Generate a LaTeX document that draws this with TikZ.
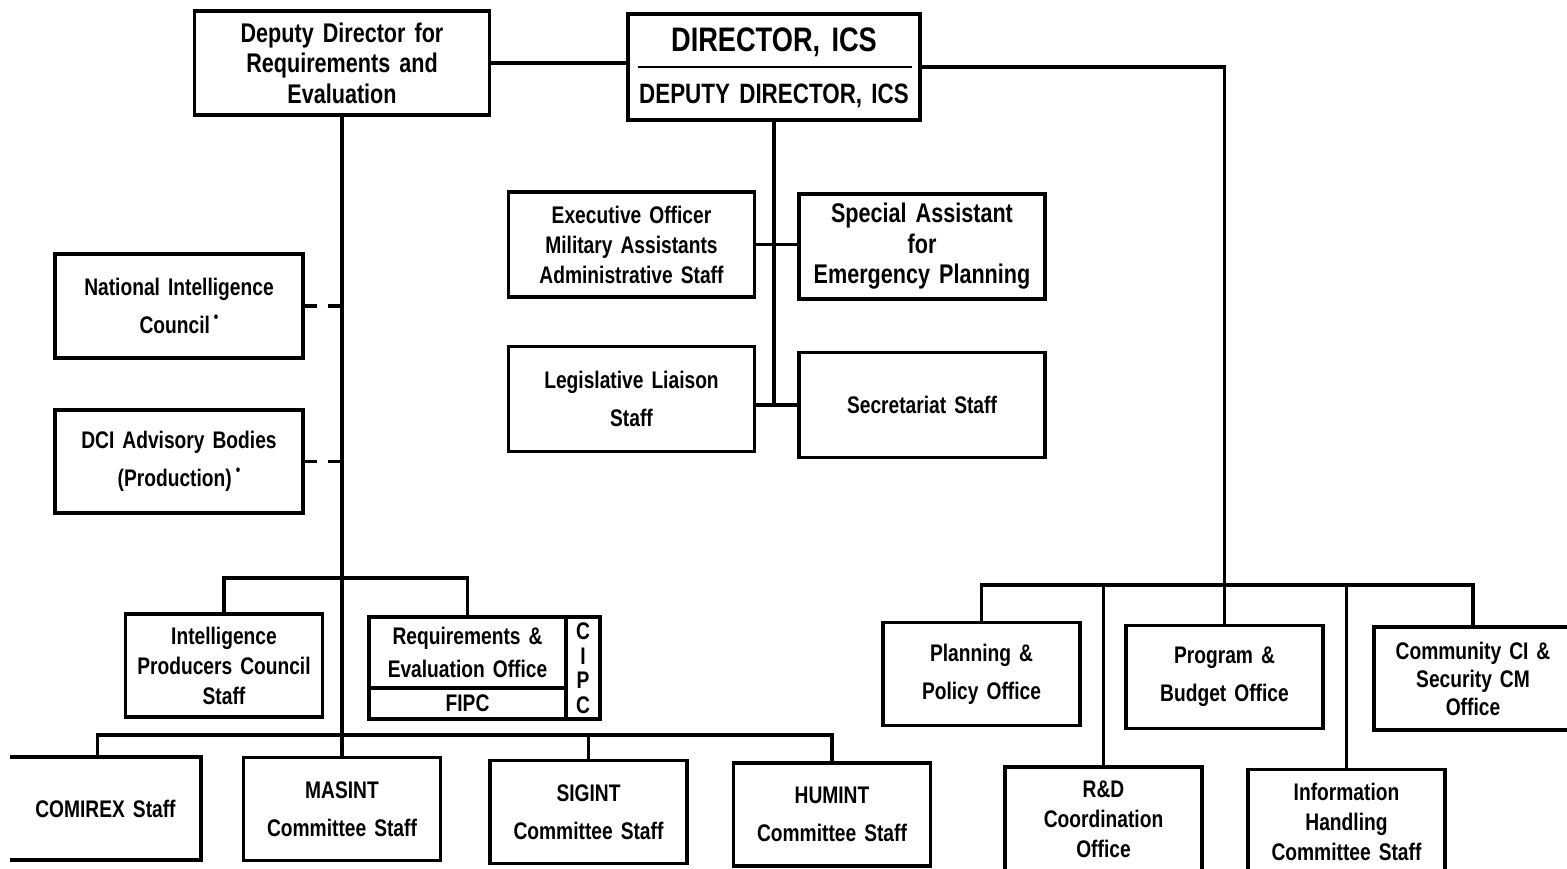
\documentclass[tikz,border=0pt]{standalone}
\usepackage{fontspec}
\newfontfamily\orgfont{Liberation Sans}[FakeStretch=0.8, WordSpace=1.5]
\newcommand\orgtext{\orgfont\bfseries\fontsize{24}{30}\selectfont}
\newcommand\orgloose{\orgfont\bfseries\fontsize{24}{38}\selectfont}
\newcommand\orgbig{\orgfont\bfseries\fontsize{27}{30.5}\selectfont}
\newcommand\footmark{\,\raisebox{11pt}{\fontsize{16}{16}\selectfont\textbullet}}

\tikzset{
  box/.style={draw, line width=3.2pt, align=center, inner sep=0pt, font=\orgtext},
  loose/.style={font=\orgloose},
  small/.style={minimum width=197pt, minimum height=103pt},
  mid/.style={minimum width=246pt, minimum height=105pt},
  link/.style={line width=3.5pt},
  dotlink/.style={line width=3.2pt, dash pattern=on 12pt off 11pt},
}

\begin{document}
\begin{tikzpicture}[x=1pt,y=-1pt]
\useasboundingbox (0,0) rectangle (1567,869);
\clip (0,0) rectangle (1567,869);

% director and deputy
\node[box, font=\orgbig, minimum width=295pt, minimum height=104pt] (ddre) at (342,63) {Deputy Director for\\Requirements and\\Evaluation};
\node[box, minimum width=292pt, minimum height=106pt] (dir) at (774,67) {};
\node[font=\orgfont\bfseries\fontsize{34}{34}\selectfont] (dirtop) at (774,42) {DIRECTOR, ICS};
\node[font=\orgfont\bfseries\fontsize{28}{28}\selectfont] (dirbot) at (774,96) {DEPUTY DIRECTOR, ICS};
\draw[line width=2pt] ([xshift=12pt]dir.west) -- ([xshift=-10pt]dir.east);

% staff under the director
\node[box, mid] (exec) at (631.5,244.5) {Executive Officer\\Military Assistants\\Administrative Staff};
\node[box, mid, font=\orgbig] (spec) at (922,246.5) {Special Assistant\\for\\Emergency Planning};
\node[box, mid, loose] (leg) at (631.5,399) {Legislative Liaison\\Staff};
\node[box, mid] (sec) at (922,405) {Secretariat Staff};

% left side
\node[box, loose, minimum width=248pt, minimum height=104pt] (nic) at (179,306) {National Intelligence\\Council\footmark};
\node[box, loose, minimum width=248pt, minimum height=103pt] (dci) at (179,461.5) {DCI Advisory Bodies\\(Production)\footmark};
\node[box, small] (ipc) at (224,665.5) {Intelligence\\Producers Council\\Staff};
\node[box, minimum width=197pt, minimum height=71pt, font=\orgfont\bfseries\fontsize{24}{33}\selectfont] (reo) at (467.5,652.5) {Requirements \&\\Evaluation Office};
\node[box, minimum width=197pt, minimum height=31pt] (fipc) at (467.5,703.5) {FIPC};
\node[box, minimum width=34pt, minimum height=102pt, font=\orgfont\bfseries\fontsize{24}{24.5}\selectfont] (cipc) at (583,668) {C\\I\\P\\C};

% committee staffs
\node[box, draw=none, outer sep=0pt, small, minimum width=191pt] (comirex) at (105.5,808.5) {COMIREX Staff};
\draw[line width=3.2pt] (comirex.north west) -- (comirex.north east) -- (comirex.south east) -- (comirex.south west);
\node[box, small, loose] (masint) at (342,809) {MASINT\\Committee Staff};
\node[box, small, loose] (sigint) at (588.5,812) {SIGINT\\Committee Staff};
\node[box, small, loose] (humint) at (832,814.5) {HUMINT\\Committee Staff};

% right side
\node[box, small, loose] (pp) at (981.5,674) {Planning \&\\Policy Office};
\node[box, small, loose] (pb) at (1224.5,677) {Program \&\\Budget Office};
\node[box, small, minimum width=198pt, font=\orgfont\bfseries\fontsize{24}{28}\selectfont] (cci) at (1473,678.5) {Community CI \&\\Security CM\\Office};
\node[box, small, minimum height=105pt] (rd) at (1103.5,819.5) {R\&D\\Coordination\\Office};
\node[box, small, minimum height=105pt] (ih) at (1346.5,822) {Information\\Handling\\Committee Staff};

% bars
\coordinate (lbar) at (0,578);
\coordinate (cbar) at (0,735);
\coordinate (rbar) at (0,585);

% connectors
\draw[link] (ddre.east) -- (ddre.east -| dir.west);
\draw[link] (dir.east) -| (pb.north);
\draw[link] (dir.south) -- (dir.south |- sec.west);
\draw[link] (exec.east) -- (exec.east -| spec.west);
\draw[link] (sec.west -| leg.east) -- (sec.west);
\draw[link] (ddre.south) -- (ddre.south |- masint.north);
\draw[dotlink] (nic.east) -- (nic.east -| ddre.south);
\draw[dotlink] (dci.east) -- (dci.east -| ddre.south);
\draw[link] (ipc.north) |- (lbar -| reo.north) -- (reo.north);
\draw[link] ([xshift=-8pt]comirex.north) |- (cbar -| humint.north) -- (humint.north);
\draw[link] (sigint.north) -- (sigint.north |- cbar);
\draw[link] (pp.north) |- (rbar -| cci.north) -- (cci.north);
\draw[link] (rd.north) -- (rd.north |- rbar);
\draw[link] (ih.north) -- (ih.north |- rbar);
\end{tikzpicture}
\end{document}
